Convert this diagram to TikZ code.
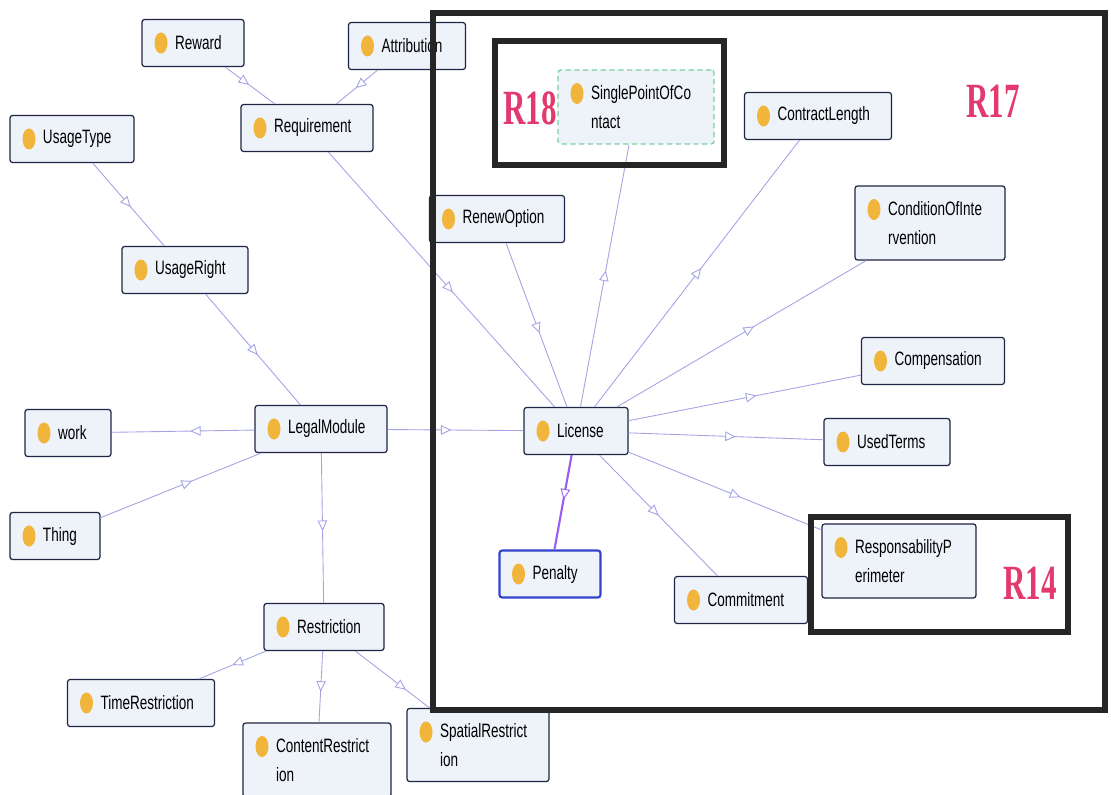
\documentclass[tikz,border=0pt]{standalone}
\usepackage{fontspec}
\usepackage{xcolor}
\usepackage{tikz}
\usetikzlibrary{arrows.meta,decorations.markings}

\newfontfamily\classfont{Liberation Sans}
\newfontfamily\tagfont{Liberation Serif}
\definecolor{boxfill}{HTML}{EEF2F9}
\definecolor{boxline}{HTML}{1F2545}
\definecolor{edgeline}{HTML}{A3A3E6}
\definecolor{dotfill}{HTML}{F0B53A}
\definecolor{penline}{HTML}{9A5CF0}
\definecolor{penbox}{HTML}{3344CC}
\definecolor{spocline}{HTML}{7ACFA0}
\definecolor{tagred}{HTML}{E23A6E}
\definecolor{frameline}{HTML}{262626}
\newlength\px \setlength\px{0.2mm}
\newcommand\cname[1]{\hspace*{33\px}\scalebox{0.7}[1]{#1}}
\newcommand\rtag[1]{\scalebox{0.63}[1]{#1}}

\tikzset{
  cls/.style={draw=boxline, fill=boxfill, line width=0.7pt, rounded corners=1.5pt,
    inner xsep=0pt, inner ysep=1pt, align=left, text width=#1, minimum width=#1,
    minimum height=47\px, font=\classfont\fontsize{11}{16.5}\selectfont,
    path picture={\fill[dotfill] ([xshift=19\px,yshift=-23.5\px]path picture bounding box.north west) ellipse [x radius=6.5\px, y radius=10.5\px];}},
  isa/.style={draw=edgeline, line width=0.5pt, postaction={decorate},
    decoration={markings, mark=at position #1 with {\arrow{Triangle[open,fill=white,line width=0.5pt,length=2.1mm,width=1.9mm]}}}},
  isa/.default=0.5,
  region/.style={draw=frameline, line width=1.2mm},
  rlabel/.style={text=tagred, font=\tagfont\bfseries\fontsize{28}{30}\selectfont, inner sep=0pt}
}

\begin{document}
\begin{tikzpicture}[x=0.2mm,y=-0.2mm]
\path[use as bounding box, fill=white] (0,0) rectangle (1111,795);

% classes
\node[cls=102\px] (reward) at (193,43) {\cname{Reward}};
\node[cls=117\px] (attribution) at (407,46) {\cname{Attribution}};
\node[cls=124\px] (usagetype) at (72,139) {\cname{UsageType}};
\node[cls=132\px] (requirement) at (307,128) {\cname{Requirement}};
\node[cls=126\px] (usageright) at (185,270) {\cname{UsageRight}};
\node[cls=135\px] (renew) at (497,219) {\cname{RenewOption}};
\node[cls=156\px, minimum height=74\px, draw=spocline, densely dashed] (spoc) at (636,107) {\cname{SinglePointOfCo}\\\cname{ntact}};
\node[cls=147\px] (contract) at (818,116) {\cname{ContractLength}};
\node[cls=150\px, minimum height=74\px] (condition) at (930,223) {\cname{ConditionOfInte}\\\cname{rvention}};
\node[cls=143\px] (compensation) at (933,361) {\cname{Compensation}};
\node[cls=132\px] (legal) at (321,429) {\cname{LegalModule}};
\node[cls=104\px] (license) at (576,431) {\cname{License}};
\node[cls=86\px] (work) at (68,433) {\cname{work}};
\node[cls=126\px] (usedterms) at (887,442) {\cname{UsedTerms}};
\node[cls=90\px] (thing) at (55,536) {\cname{Thing}};
\node[cls=154\px, minimum height=74\px] (perimeter) at (899,561) {\cname{ResponsabilityP}\\\cname{erimeter}};
\node[cls=101\px, draw=penbox, line width=1.2pt] (penalty) at (550,574) {\cname{Penalty}};
\node[cls=133\px] (commitment) at (741,600) {\cname{Commitment}};
\node[cls=120\px] (restriction) at (324,627) {\cname{Restriction}};
\node[cls=147\px] (timer) at (141,703) {\cname{TimeRestriction}};
\node[cls=148\px, minimum height=74\px] (contentr) at (317,760) {\cname{ContentRestrict}\\\cname{ion}};
\node[cls=142\px, minimum height=73\px] (spatialr) at (478,745) {\cname{SpatialRestrict}\\\cname{ion}};

% links
\draw[isa=0.48] (reward) -- (requirement);
\draw[isa=0.53] (attribution) -- (requirement);
\draw[isa=0.53] (usagetype) -- (usageright);
\draw[isa=0.55] (usageright) -- (legal);
\draw[isa=0.57] (thing) -- (legal);
\draw[isa=0.45] (legal) -- (work);
\draw[isa=0.47] (legal) -- (license);
\draw[isa=0.52] (legal) -- (restriction);
\draw[isa=0.5] (restriction) -- (timer);
\draw[isa=0.57] (restriction) -- (contentr);
\draw[isa=0.68] (restriction) -- (spatialr);
\draw[isa=0.55] (requirement) -- (license);
\draw[isa=0.55] (renew) -- (license);
\draw[isa=0.52] (license) -- (spoc);
\draw[isa=0.52] (license) -- (contract);
\draw[isa=0.55] (license) -- (condition);
\draw[isa=0.55] (license) -- (compensation);
\draw[isa=0.55] (license) -- (usedterms);
\draw[isa=0.58] (license) -- (perimeter);
\draw[isa=0.5] (license) -- (commitment);
\draw[isa=0.47, draw=penline, line width=1.2pt] (license) -- (penalty);

% requirement frames
\draw[region] (433,13) rectangle (1105,710);
\draw[region] (495,41) rectangle (724,165);
\draw[region] (811,517) rectangle (1068,632);
\node[rlabel] (r18) at (530,108) {\rtag{R18}};
\node[rlabel] (r17) at (993,101) {\rtag{R17}};
\node[rlabel] (r14) at (1030,583) {\rtag{R14}};
\end{tikzpicture}
\end{document}
